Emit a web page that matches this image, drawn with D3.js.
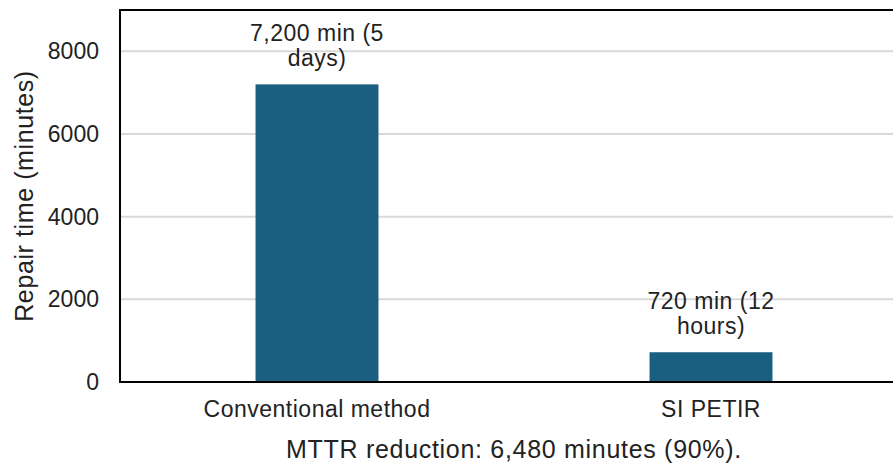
<!DOCTYPE html>
<html>
<head>
<meta charset="utf-8">
<script src="https://cdn.jsdelivr.net/npm/d3@7"></script>
<style>
  html, body { margin: 0; padding: 0; background: #fff; }
  svg { display: block; font-family: "Liberation Sans", Arial, sans-serif; }
</style>
</head>
<body>
<svg id="chart" width="893" height="465"></svg>
<script>
const categories = ["Conventional method", "SI PETIR"];
const values = [7200, 720];
const valueLabels = [["7,200 min (5", "days)"], ["720 min (12", "hours)"]];
const yTicks = [0, 2000, 4000, 6000, 8000];
const yMax = 9000;
const yTitle = "Repair time (minutes)";
const footnote = "MTTR reduction: 6,480 minutes (90%).";

(function () {
const svg = d3.select("#chart");
const mLeft = 120, mTop = 10, mRight = 908, mBottom = 382;
const textColor = "#222222";

const x = d3.scaleBand().domain(categories).range([mLeft, mRight])
  .paddingInner(0.688).paddingOuter(0.344);
const y = d3.scaleLinear().domain([0, yMax]).range([mBottom, mTop]);

// gridlines
svg.append("g")
  .selectAll("line").data(yTicks.filter(d => d > 0)).join("line")
  .attr("x1", mLeft).attr("x2", mRight)
  .attr("y1", d => y(d)).attr("y2", d => y(d))
  .attr("stroke", "#d9d9d9").attr("stroke-width", 2);

// bars
svg.append("g").selectAll("rect").data(values).join("rect")
  .attr("x", (d, i) => x(categories[i]))
  .attr("width", x.bandwidth())
  .attr("y", d => y(d))
  .attr("height", d => y(0) - y(d))
  .attr("fill", "#1a5e80");

// frame
svg.append("rect")
  .attr("x", mLeft).attr("y", mTop)
  .attr("width", mRight - mLeft).attr("height", mBottom - mTop)
  .attr("fill", "none").attr("stroke", "#000").attr("stroke-width", 2);

// y axis
const yAxis = svg.append("g").attr("transform", `translate(${mLeft},0)`)
  .call(d3.axisLeft(y).tickValues(yTicks).tickSize(0).tickPadding(21).tickFormat(d3.format("d")));
yAxis.select(".domain").remove();
yAxis.selectAll("text").attr("font-size", 23).attr("fill", textColor)
  .attr("font-family", "Liberation Sans, Arial, sans-serif");

// x axis
const xAxis = svg.append("g").attr("transform", `translate(0,${mBottom})`)
  .call(d3.axisBottom(x).tickSize(0).tickPadding(19));
xAxis.select(".domain").remove();
xAxis.selectAll("text").attr("font-size", 23).attr("fill", textColor)
  .attr("letter-spacing", 0.5)
  .attr("font-family", "Liberation Sans, Arial, sans-serif");

// value labels
const lbl = svg.append("g").selectAll("text").data(values).join("text")
  .attr("x", (d, i) => x(categories[i]) + x.bandwidth() / 2)
  .attr("y", d => y(d) - 43)
  .attr("text-anchor", "middle")
  .attr("font-size", 23).attr("fill", textColor).attr("letter-spacing", 0.5);
lbl.selectAll("tspan").data((d, i) => valueLabels[i]).join("tspan")
  .attr("x", function () { return d3.select(this.parentNode).attr("x"); })
  .attr("dy", (d, j) => j === 0 ? 0 : 25)
  .text(d => d);

// y title
svg.append("text")
  .attr("transform", `translate(33,${(mTop + mBottom) / 2}) rotate(-90)`)
  .attr("text-anchor", "middle")
  .attr("font-size", 25).attr("fill", textColor).attr("letter-spacing", 0.6)
  .text(yTitle);

// footnote
svg.append("text")
  .attr("x", (mLeft + mRight) / 2).attr("y", 458)
  .attr("text-anchor", "middle")
  .attr("font-size", 25).attr("fill", textColor).attr("letter-spacing", 0.7)
  .text(footnote);
})();
</script>
</body>
</html>
